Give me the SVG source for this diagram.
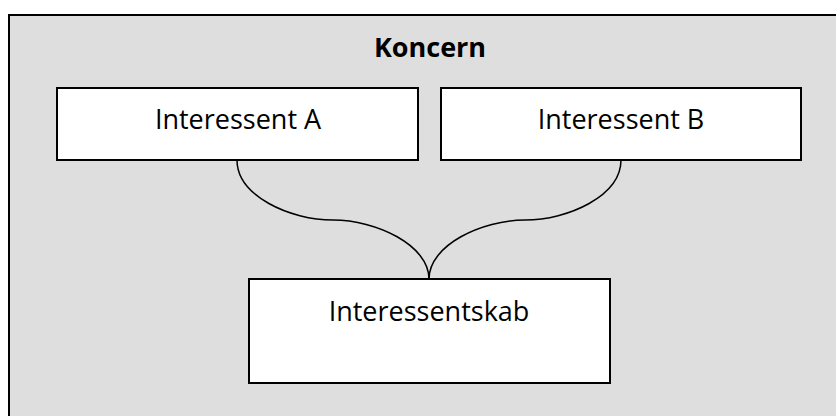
<svg xmlns="http://www.w3.org/2000/svg" width="836" height="416" viewBox="0 0 836 416">
<style>
.box{fill:#ffffff;stroke:#000;stroke-width:2}
.lbl{font-family:"Open Sans","Liberation Sans",sans-serif;font-size:27px;fill:#000;text-anchor:middle}
.conn{fill:none;stroke:#000;stroke-width:1.5}
</style>
<rect width="836" height="416" fill="#ffffff"/>
<g id="koncern">
<rect x="9" y="15" width="840" height="420" fill="#dedede" stroke="#000" stroke-width="2"/>
<text x="430" y="57" class="lbl" font-weight="bold" font-size="26">Koncern</text>
</g>
<g id="connectors">
<path class="conn" d="M237,160 C237,196 290,220 333,220 C376,220 429,245 429,279"/>
<path class="conn" d="M621,160 C621,196 568,220 525,220 C482,220 429,245 429,279"/>
</g>
<g id="interessent-a">
<rect class="box" x="57" y="88" width="361" height="72"/>
<text x="238" y="129" class="lbl">Interessent A</text>
</g>
<g id="interessent-b">
<rect class="box" x="441" y="88" width="360" height="72"/>
<text x="621" y="129" class="lbl">Interessent B</text>
</g>
<g id="interessentskab">
<rect class="box" x="249" y="279" width="361" height="104"/>
<text x="429" y="321" class="lbl">Interessentskab</text>
</g>
</svg>
